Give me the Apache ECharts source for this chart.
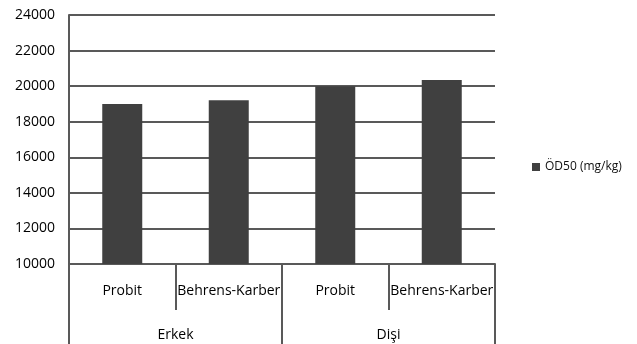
<!DOCTYPE html>
<html><head><meta charset="utf-8">
<script src="https://cdn.jsdelivr.net/npm/echarts@6/dist/echarts.min.js"></script>
<style>html,body{margin:0;padding:0;background:#fff}#c{width:637px;height:344px}</style>
</head><body><div id="c"></div>
<script>
const subCategories = ['Probit', 'Behrens-Karber', 'Probit', 'Behrens-Karber'];
const groupCategories = ['Erkek', 'Dişi'];
const seriesName = 'ÖD50 (mg/kg)';
const values = [19000, 19200, 20000, 20350];
const yMin = 10000, yMax = 24000, yStep = 2000;

const font = 'Open Sans';
const chart = echarts.init(document.getElementById('c'));
chart.setOption({
  animation: false,
  backgroundColor: '#fff',
  grid: { left: 69, right: 142, top: 15, bottom: 80 },
  legend: {
    data: [seriesName], left: 527, top: 156, itemWidth: 8, itemHeight: 8, itemGap: 3,
    icon: 'rect', textStyle: { fontFamily: font, fontSize: 12, color: '#111' }
  },
  xAxis: [
    {
      type: 'category', data: subCategories, position: 'bottom',
      axisLine: { lineStyle: { color: '#595959', width: 2 } },
      axisTick: { show: true, length: 46, lineStyle: { color: '#595959', width: 2 } },
      axisLabel: { margin: 20, fontFamily: font, fontSize: 14, color: '#000', interval: 0 }
    },
    {
      type: 'category', data: groupCategories, position: 'bottom',
      axisLine: { show: false },
      axisTick: { show: true, length: 80, lineStyle: { color: '#595959', width: 2 } },
      axisLabel: { margin: 64, fontFamily: font, fontSize: 14, color: '#000' }
    }
  ],
  yAxis: {
    type: 'value', min: yMin, max: yMax, interval: yStep,
    axisLine: { show: true, lineStyle: { color: '#595959', width: 2 } },
    axisTick: { show: false },
    splitLine: { lineStyle: { color: '#595959', width: 2 } },
    axisLabel: { margin: 14, fontFamily: font, fontSize: 14, color: '#000', formatter: v => String(v) }
  },
  series: [{
    name: seriesName, type: 'bar', data: values, xAxisIndex: 0,
    barWidth: 40, itemStyle: { color: '#404040' }
  }]
});
</script></body></html>
